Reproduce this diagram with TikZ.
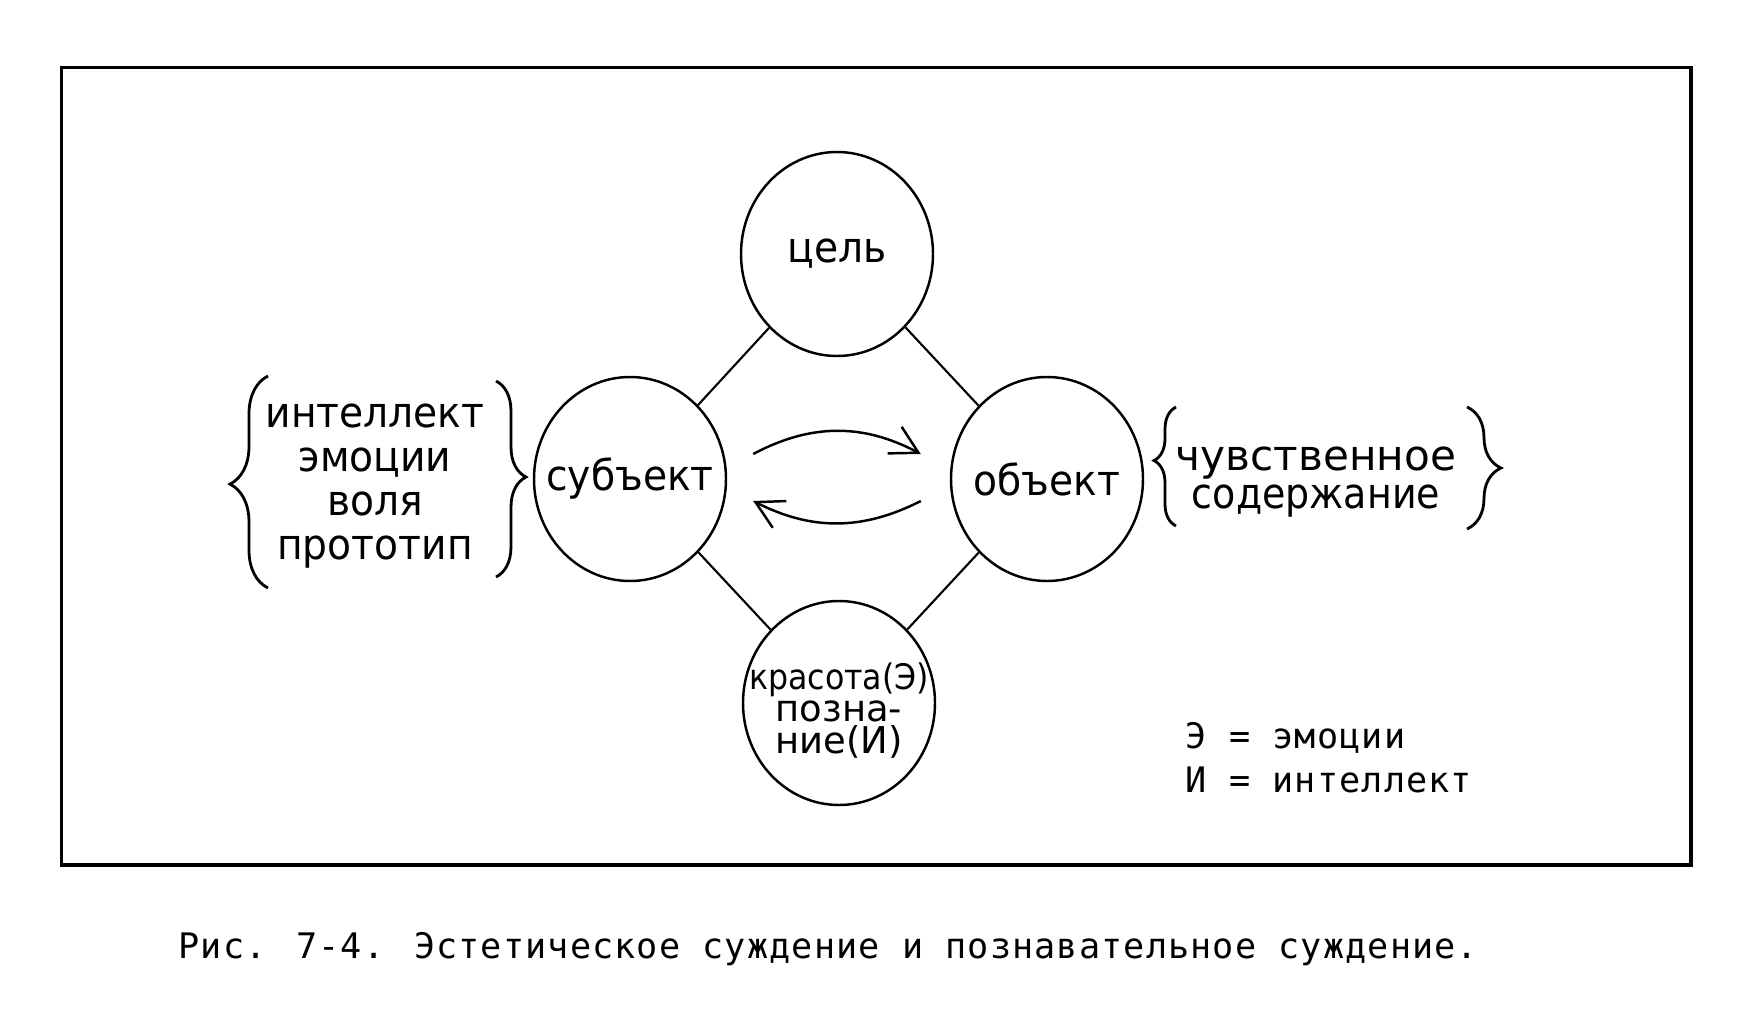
\documentclass[tikz,border=0pt]{standalone}
\usepackage{fontspec}
\setmainfont{DejaVu Sans}
\newfontfamily\monofont[LetterSpace=3.2]{DejaVu Sans Mono}
\newfontfamily\narrowfont[FakeStretch=0.93]{DejaVu Sans}
\newfontfamily\tightfont[FakeStretch=0.9]{DejaVu Sans}
\usepackage{tikz}
\usetikzlibrary{shapes.geometric, arrows.meta, positioning, calc, decorations.pathreplacing}
\tikzstyle{circ} = [ellipse, draw, line width=0.7pt, minimum width=1.92cm, minimum height=2.04cm, inner sep=-0.4cm, font=\narrowfont\fontsize{12}{12}\selectfont]
\tikzstyle{link} = [line width=0.6pt]
\tikzstyle{swing} = [line width=0.7pt, -{Straight Barb[length=2.7mm, width=3mm]}]
\tikzstyle{curly} = [decorate, line width=0.8pt]
\tikzstyle{legend} = [inner sep=0pt, font=\monofont\fontsize{10}{12.5}\selectfont]

\begin{document}
\begin{tikzpicture}
    \useasboundingbox (0,0) rectangle (17.57,10.15);
    % Frame
    \draw[line width=1pt] (0.617,1.50) rectangle (16.91,9.475);

    % Main circles
    \node (goal) [circ] at (8.37,7.61) {цель};
    \node (subj) [circ] at (6.30,5.36) {субъект};
    \node (obj) [circ] at (10.47,5.36) {объект};
    \node (judg) [circ, align=center, font=\fontsize{10.5}{9}\selectfont] at (8.39,3.12) {{\rule{0pt}{0.42cm}\tightfont\fontsize{10}{9}\selectfont красота(Э)}\\позна-\\ние(И)};

    % Side texts
    \node (traits) [align=center, font=\narrowfont\fontsize{12}{12.5}\selectfont] at (3.75,5.29) {интеллект\\эмоции\\воля\\прототип};
    \node (content) [align=center, font=\fontsize{12}{11}\selectfont] at (13.16,5.33) {чувственное\\{\tightfont содержание}};

    % Links
    \draw[link] (goal) -- (subj);
    \draw[link] (goal) -- (obj);
    \draw[link] (judg) -- (subj);
    \draw[link] (judg) -- (obj);

    % Exchange arrows
    \coordinate (s1) at ($(subj.east)+(0.26,0.25)$);
    \coordinate (o1) at ($(obj.west)+(-0.29,0.25)$);
    \coordinate (o2) at ($(obj.west)+(-0.29,-0.22)$);
    \coordinate (s2) at ($(subj.east)+(0.26,-0.22)$);
    \draw[swing] (s1) to[bend left=28] (o1);
    \draw[swing] (o2) to[bend left=27] (s2);

    % Braces
    \draw[curly, decoration={brace, amplitude=0.38cm, aspect=0.49}] (2.68,4.27) -- (2.68,6.39);
    \draw[curly, decoration={brace, amplitude=0.3cm, aspect=0.49}] (4.96,6.34) -- (4.96,4.38);
    \draw[curly, decoration={brace, amplitude=0.22cm, aspect=0.55}] (11.76,4.89) -- (11.76,6.08);
    \draw[curly, decoration={brace, amplitude=0.34cm, aspect=0.5}] (14.67,6.08) -- (14.67,4.86);

    % Legend and caption
    \node (key) [legend, align=left, anchor=north west] at (11.85,2.93) {Э = эмоции\\И = интеллект};
    \node (caption) [legend, anchor=base west] at (1.78,0.57) {Рис. 7-4. Эстетическое суждение и познавательное суждение.};
\end{tikzpicture}
\end{document}
